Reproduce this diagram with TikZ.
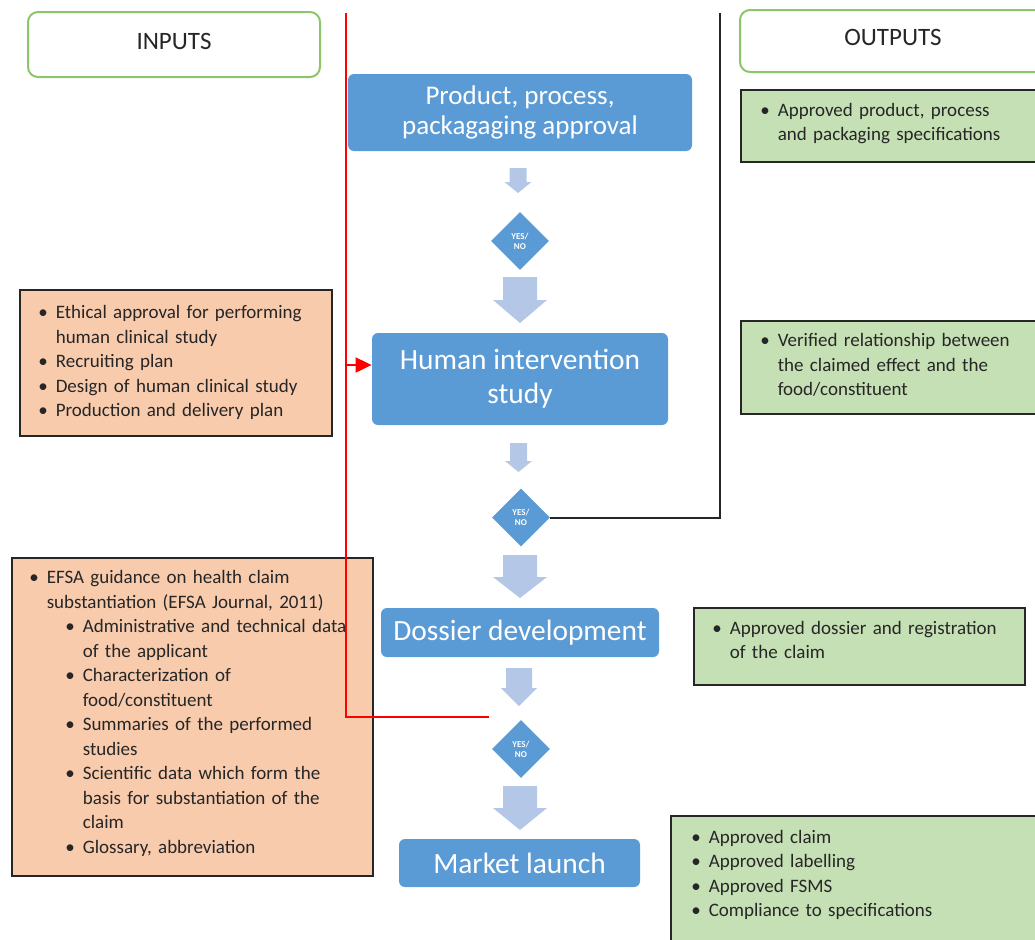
\documentclass[tikz,border=0pt]{standalone}
\usepackage{fontspec}
\setmainfont{Carlito}
\usetikzlibrary{shapes.geometric, arrows.meta, positioning}
\definecolor{FlowBlue}{HTML}{5B9BD5}
\definecolor{FlowPale}{HTML}{B4C7E7}
\definecolor{InPeach}{HTML}{F8CBAD}
\definecolor{OutGreen}{HTML}{C5E0B4}
\definecolor{HeadGreen}{HTML}{8CC56A}
\definecolor{EdgeDark}{HTML}{262626}

\newenvironment{blist}[1][9pt]{\begin{list}{\textbullet}{\setlength{\leftmargin}{#1}\setlength{\labelwidth}{5pt}\setlength{\labelsep}{4pt}\setlength{\itemsep}{0pt}\setlength{\parsep}{0pt}\setlength{\topsep}{0pt}\setlength{\partopsep}{0pt}\setlength{\itemindent}{0pt}}}{\end{list}}
\newcommand{\bulletfont}{\fontsize{9.5}{12.25}\selectfont}
% block arrow: x, top, head start, tip, half shaft, half head
\newcommand{\blockarrow}[6]{\fill[FlowPale] ({#1-#5},#2) -- ({#1+#5},#2) -- ({#1+#5},#3) -- ({#1+#6},#3) -- (#1,#4) -- ({#1-#6},#3) -- ({#1-#5},#3) -- cycle;}

\begin{document}
\begin{tikzpicture}[x=0.5pt, y=-0.5pt]
      \tikzset{
        headbox/.style={rectangle, rounded corners=5pt, draw=HeadGreen, line width=1pt, fill=white, text=EdgeDark, text depth=3.5pt, font=\fontsize{12.5}{14}\selectfont},
        flowbox/.style={rectangle, rounded corners=3pt, fill=FlowBlue, text=white, align=center, inner sep=0pt, font=\fontsize{14.7}{17}\selectfont},
        decision/.style={diamond, fill=FlowBlue, minimum width=29pt, minimum height=29pt, inner sep=0pt, text=white, align=center, font=\fontsize{4.5}{5}\selectfont\bfseries},
        inbox/.style={rectangle, draw=EdgeDark, line width=0.8pt, fill=InPeach, text=EdgeDark, anchor=north west, inner xsep=9pt, inner ysep=0pt, align=left, font=\bulletfont},
        outbox/.style={rectangle, draw=EdgeDark, line width=0.8pt, fill=OutGreen, text=EdgeDark, anchor=north west, inner xsep=9.5pt, inner ysep=0pt, align=left, font=\bulletfont},
        redline/.style={draw=red, line width=1pt},
        blackline/.style={draw=EdgeDark, line width=1pt}
      }
      \useasboundingbox (0,0) rectangle (1035,939);
      \clip (0,0) rectangle (1035,939);

      % headers
      \node[headbox, minimum width=146pt, minimum height=32.5pt] (inhead) at (174,44.5) {INPUTS};
      \node[headbox, minimum width=153pt, minimum height=31pt] (outhead) at (893,41) {OUTPUTS};

      % main flow
      \node[flowbox, minimum width=172pt, minimum height=38.5pt, font=\fontsize{13.5}{15}\selectfont] (approval) at (520,112.5) {Product, process,\\packagaging approval};
      \node[decision] (dec1) at (520,241) {YES/\\NO};
      \node[flowbox, minimum width=148pt, minimum height=46pt] (study) at (520,379) {Human intervention\\study};
      \node[decision] (dec2) at (521,517.5) {YES/\\NO};
      \node[flowbox, minimum width=139pt, minimum height=24.5pt] (dossier) at (520,632.5) {Dossier development};
      \node[decision] (dec3) at (521,749) {YES/\\NO};
      \node[flowbox, minimum width=120.5pt, minimum height=24pt] (launch) at (519.5,863) {Market launch};

      \blockarrow{518}{168}{182}{193}{8.5}{13.5}
      \blockarrow{520}{277}{300}{323}{17}{27}
      \blockarrow{518.5}{443}{461}{472}{8.5}{13.5}
      \blockarrow{520}{555}{577}{598}{17}{27}
      \blockarrow{519}{668}{688}{706}{13}{18}
      \blockarrow{520}{786}{808}{830}{17}{27}

      % inputs
      \node[inbox, text width=138pt, minimum height=73pt] (ethics) at (19,289) {%
        \begin{blist}
        \item Ethical approval for performing\newline human clinical study
        \item Recruiting plan
        \item Design of human clinical study
        \item Production and delivery plan
        \end{blist}\par\vspace{6pt}};
      \node[inbox, text width=168.5pt, inner xsep=6pt, minimum height=159pt] (efsa) at (11,557) {%
        \begin{blist}[11.5pt]
        \item EFSA guidance on health claim\newline substantiation (EFSA Journal, 2011)
          \begin{blist}[18pt]
          \item Administrative and technical data\newline of the applicant
          \item Characterization of\newline food/constituent
          \item Summaries of the performed\newline studies
          \item Scientific data which form the\newline basis for substantiation of the\newline claim
          \item Glossary, abbreviation
          \end{blist}
        \end{blist}\par\vspace{9pt}};

      % outputs
      \node[outbox, text width=133.5pt, minimum height=36pt] (specs) at (740,89) {%
        \begin{blist}
        \item Approved product, process\newline and packaging specifications
        \end{blist}\par\vspace{8pt}};
      \node[outbox, text width=133.5pt, minimum height=46.5pt] (verified) at (740,320) {%
        \begin{blist}
        \item Verified relationship between\newline the claimed effect and the\newline food/constituent
        \end{blist}\par\vspace{8pt}};
      \node[outbox, text width=147.5pt, inner xsep=9pt, minimum height=38.5pt] (registration) at (693,607) {%
        \begin{blist}
        \item Approved dossier and registration\newline of the claim
        \end{blist}\par\vspace{12pt}};
      \node[outbox, text width=170pt, inner xsep=10pt, inner ysep=1.5pt] (claim) at (670,815) {%
        \begin{blist}
        \item Approved claim
        \item Approved labelling
        \item Approved FSMS
        \item Compliance to specifications
        \end{blist}\par\vspace{16pt}\mbox{}};

      % connectors
      \coordinate (redtop) at (346,13);
      \coordinate (redtap) at (346,365);
      \coordinate (redend) at (489,717);
      \coordinate (blacktop) at (720,13);
      \draw[redline] (redtop) |- (redend);
      \draw[redline, -{Triangle[length=8pt, width=7.5pt]}] (redtap) -- (study.west |- redtap);
      \draw[blackline] (blacktop) |- (dec2.east);
    \end{tikzpicture}
\end{document}
